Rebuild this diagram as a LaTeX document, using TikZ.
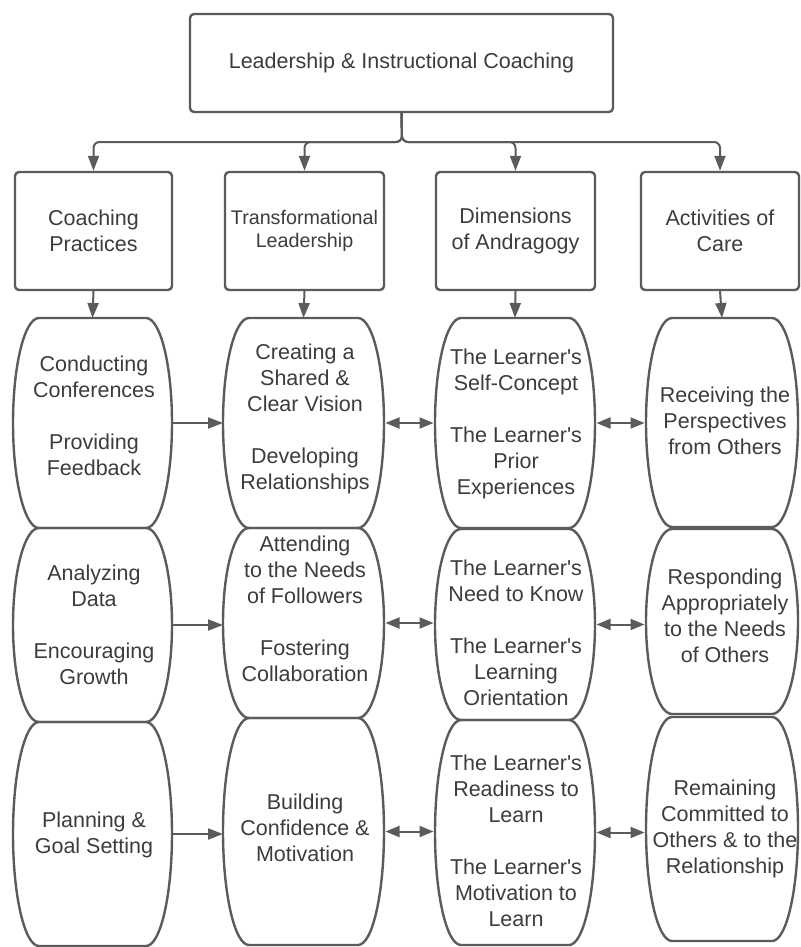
\documentclass[tikz,border=0pt]{standalone}
\usepackage{fontspec}
\setmainfont{Liberation Sans}
\usetikzlibrary{arrows.meta}
\definecolor{linecol}{HTML}{5B5B5B}
\definecolor{txtcol}{HTML}{3C3C3C}
\newcommand\ap{\textquotesingle}
\tikzset{
  shapeline/.style={draw=linecol, line width=2.4pt, line join=round},
  cellnode/.style={inner sep=0pt, outer sep=0pt, draw=none},
  txt/.style={align=center, inner sep=0pt, text=txtcol,
    font=\fontsize{21.5}{26}\selectfont,
    execute at begin node=\strut, execute at end node=\strut},
  headbox/.style={shapeline, rounded corners=4pt, align=center, inner sep=0pt, text=txtcol,
    font=\fontsize{21.5}{26}\selectfont},
  conn/.style={draw=linecol, line width=2pt, -{Triangle[length=15pt,width=11pt]}},
  dconn/.style={draw=linecol, line width=2pt, {Triangle[length=14pt,width=11pt]}-{Triangle[length=14pt,width=11pt]}, shorten <=1.5pt, shorten >=1.5pt},
}
\newcommand\barrel[6]{%
  \node[cellnode, minimum width={#3-#2}, minimum height={#5-#4}] (#1) at ({(#2+#3)/2},{(#4+#5)/2}) {};
  \draw[shapeline] (#2+#6,#4) -- (#3-#6,#4)
    arc[start angle=-90, end angle=90, x radius=#6, y radius={(#5-#4)/2}]
    -- (#2+#6,#5)
    arc[start angle=90, end angle=270, x radius=#6, y radius={(#5-#4)/2}] -- cycle;
}
\begin{document}
\begin{tikzpicture}[x=1pt,y=-1pt]
\useasboundingbox (0,0) rectangle (800,947);

% top box
\node[headbox, minimum width=423pt, minimum height=98pt] (top) at (401.5,63) {\strut Leadership \& Instructional Coaching};

% second row boxes
\node[headbox, minimum width=157pt, minimum height=118pt] (c1) at (93.5,231) {Coaching\\Practices};
\node[headbox, minimum width=159pt, minimum height=118pt, font=\fontsize{19.7}{23}\selectfont] (c2) at (304.5,231) {Transformational\\Leadership};
\node[headbox, minimum width=159pt, minimum height=118pt] (c3) at (515.5,231) {Dimensions\\of Andragogy};
\node[headbox, minimum width=158pt, minimum height=118pt] (c4) at (720,231) {Activities of\\Care};

% branch connectors
\coordinate (split) at (402,142);
\foreach \c in {c1,c2,c3,c4}
  \draw[conn, rounded corners=6pt] (top.south) -- (split) -| (\c.north);

% barrels: column 1
\barrel{a1}{13}{172}{318}{528}{26}
\barrel{a2}{13}{172}{528}{722}{26}
\barrel{a3}{13}{172}{722}{946}{26}
% column 2
\barrel{b1}{223}{384}{318}{528}{26}
\barrel{b2}{223}{384}{528}{718}{26}
\barrel{b3}{223}{384}{718}{945}{26}
% column 3
\barrel{d1}{435}{595}{318}{528}{26}
\barrel{d2}{435}{595}{529}{720}{26}
\barrel{d3}{435}{595}{720}{945}{26}
% column 4
\barrel{e1}{646}{798}{318}{527}{26}
\barrel{e2}{646}{798}{529}{714}{26}
\barrel{e3}{646}{798}{717}{941}{26}

% down arrows
\draw[conn] (c1.south) -- (a1.north);
\draw[conn] (c2.south) -- (b1.north);
\draw[conn] (c3.south) -- (d1.north);
\draw[conn] (c4.south) -- (e1.north);

% horizontal arrows
\draw[conn] (a1.east) -- (a1.east -| b1.west);
\draw[conn] (a2.east) -- (a2.east -| b2.west);
\draw[conn] (a3.east) -- (a3.east -| b3.west);
\draw[dconn] (b1.east) -- (b1.east -| d1.west);
\draw[dconn] (b2.east) -- (b2.east -| d2.west);
\draw[dconn] (b3.east) -- (b3.east -| d3.west);
\draw[dconn] (d1.east) -- (d1.east -| e1.west);
\draw[dconn] (d2.east) -- (d2.east -| e2.west);
\draw[dconn] (d3.east) -- (d3.east -| e3.west);

% texts row 1
\node[txt] (t11) at (94,420) {Conducting\\Conferences\\[26pt]Providing\\Feedback};
\node[txt] (t21) at (305,421) {Creating a\\Shared \&\\Clear Vision\\[26pt]Developing\\Relationships};
\node[txt] (t31) at (516,426) {The Learner\ap s\\Self-Concept\\[26pt]The Learner\ap s\\Prior\\Experiences};
\node[txt] (t41) at (725,425) {Receiving the\\Perspectives\\from Others};
% row 2
\node[txt] (t12) at (94,629) {Analyzing\\Data\\[26pt]Encouraging\\Growth};
\node[txt] (t22) at (305,613) {Attending\\to the Needs\\of Followers\\[26pt]Fostering\\Collaboration};
\node[txt] (t32) at (516,637) {The Learner\ap s\\Need to Know\\[26pt]The Learner\ap s\\Learning\\Orientation};
\node[txt] (t42) at (725,620) {Responding\\Appropriately\\to the Needs\\of Others};
% row 3
\node[txt] (t13) at (94,837) {Planning \&\\Goal Setting};
\node[txt] (t23) at (305,832) {Building\\Confidence \&\\Motivation};
\node[txt] (t33) at (516,845) {The Learner\ap s\\Readiness to\\Learn\\[26pt]The Learner\ap s\\Motivation to\\Learn};
\node[txt] (t43) at (725,831) {Remaining\\Committed to\\Others \& to the\\Relationship};
\end{tikzpicture}
\end{document}
